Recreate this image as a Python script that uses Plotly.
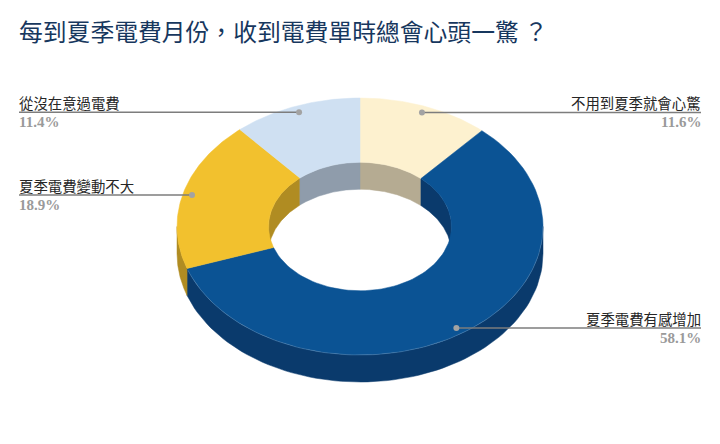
import numpy as np
import plotly.graph_objects as go

title = "每到夏季電費月份，收到電費單時總會心頭一驚 ？"
categories = ["不用到夏季就會心驚", "夏季電費有感增加", "夏季電費變動不大", "從沒在意過電費"]
values = [11.6, 58.1, 18.9, 11.4]

top_colors = ["#fdf1cf", "#0b5394", "#f2c12e", "#cfe0f2"]
side_colors = ["#b5ab92", "#0a3a6c", "#b08c22", "#8f9cab"]

# drawing is done in pixel coordinates, the page is 720x444
cx, cy = 360, 226.5
rx, ry = 183, 128.5
hole = 0.5
depth = 27
label_left, label_right = 19, 701


def ellipse(angle, r, drop=0):
    # angle in degrees, clockwise from 12 o'clock
    a = np.radians(angle)
    return cx + rx * r * np.sin(a), cy - ry * r * np.cos(a) + drop


def band(start, end, r1, drop1, r2, drop2):
    a = np.linspace(start, end, 80)
    x1, y1 = ellipse(a, r1, drop1)
    x2, y2 = ellipse(a[::-1], r2, drop2)
    return np.r_[x1, x2, x1[0]], np.r_[y1, y2, y1[0]]


def add_poly(fig, x, y, color):
    fig.add_trace(go.Scatter(x=x, y=y, mode="lines", fill="toself", fillcolor=color,
                             line=dict(color=color, width=0.5), hoverinfo="skip"))


edges = np.r_[0, np.cumsum(values)] * 3.6
edges[-1] = 360

fig = go.Figure()

# walls first, the top face is painted over them
for i in range(len(values)):
    start, end = edges[i], edges[i + 1]
    # outer wall, only the front half shows
    s, e = max(start, 90), min(end, 270)
    if s < e:
        add_poly(fig, *band(s, e, 1, 0, 1, depth), side_colors[i])
    # inner wall, only the far half shows
    for s, e in [(start, min(end, 90)), (max(start, 270), end)]:
        if s < e:
            add_poly(fig, *band(s, e, hole, 0, hole, depth), side_colors[i])

for i in range(len(values)):
    add_poly(fig, *band(edges[i], edges[i + 1], 1, 0, hole, 0), top_colors[i])

# faint highlight where the top face meets the front wall
rim_x, rim_y = ellipse(np.linspace(90, 250, 120), 1)
fig.add_trace(go.Scatter(x=rim_x, y=rim_y, mode="lines",
                         line=dict(color="rgba(255,255,255,0.2)", width=0.8), hoverinfo="skip"))

annotations = []
for i, name in enumerate(categories):
    mid = (edges[i] + edges[i + 1]) / 2
    dot_x, dot_y = ellipse(mid, 0.95)
    right_side = mid < 180
    end_x = label_right if right_side else label_left
    fig.add_trace(go.Scatter(x=[dot_x, end_x], y=[dot_y, dot_y], mode="lines",
                             line=dict(color="#7d7d7d", width=1.5), hoverinfo="skip"))
    fig.add_trace(go.Scatter(x=[dot_x], y=[dot_y], mode="markers",
                             marker=dict(color="#a3a3a3", size=6), hoverinfo="skip"))
    anchor = "right" if right_side else "left"
    # annotations carry about 2px of padding on the side they anchor to
    nudge = 2 if right_side else -2
    annotations.append(dict(x=end_x, y=dot_y, text=name, xanchor=anchor, yanchor="bottom",
                            showarrow=False, xshift=nudge, yshift=-3,
                            font=dict(family="Noto Sans CJK TC", size=14.4, color="#262626")))
    annotations.append(dict(x=end_x, y=dot_y, text=f"{values[i]}%", xanchor=anchor, yanchor="top",
                            showarrow=False, xshift=nudge, yshift=0,
                            font=dict(family="Liberation Serif", size=15, color="#9a9a9a", weight="bold")))

annotations.append(dict(x=19, y=30, text=title, xanchor="left", yanchor="middle", showarrow=False,
                        xshift=-2,
                        font=dict(family="Noto Sans CJK TC", size=23.8, color="#17375e")))

fig.update_layout(
    width=720, height=444, margin=dict(l=0, r=0, t=0, b=0),
    paper_bgcolor="white", plot_bgcolor="white", showlegend=False,
    annotations=annotations,
    xaxis=dict(range=[0, 720], visible=False, fixedrange=True),
    yaxis=dict(range=[444, 0], visible=False, fixedrange=True),
)

# the default page margin would push the whole chart 8px off
fig.write_html("out.html", config={"displayModeBar": False},
               post_script="document.body.style.margin = '0';")
